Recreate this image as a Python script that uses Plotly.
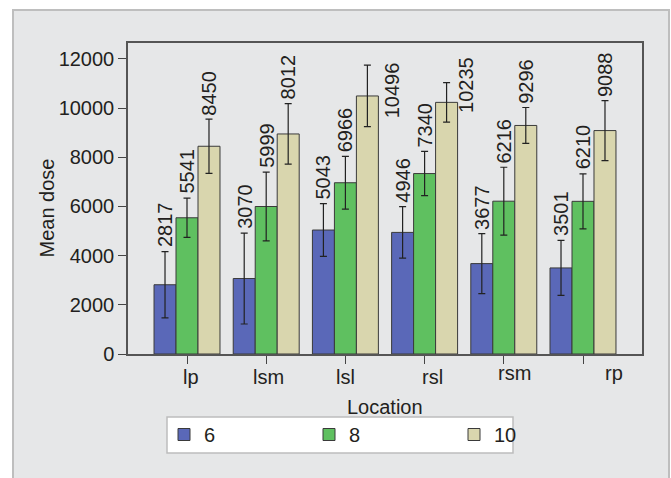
import plotly.graph_objects as go

# ---- data ----
locations = ["lp", "lsm", "lsl", "rsl", "rsm", "rp"]
groups = ["6", "8", "10"]
mean_6 = [2817, 3070, 5043, 4946, 3677, 3501]
mean_8 = [5541, 5999, 6966, 7340, 6216, 6210]
mean_10 = [8450, 8950, 10496, 10235, 9296, 9088]
err_6 = [1350, 1850, 1070, 1050, 1220, 1120]
err_8 = [800, 1400, 1070, 900, 1380, 1120]
err_10 = [1100, 1230, 1250, 800, 730, 1220]
labels_6 = ["2817", "3070", "5043", "4946", "3677", "3501"]
labels_8 = ["5541", "5999", "6966", "7340", "6216", "6210"]
labels_10 = ["8450", "8012", "10496", "10235", "9296", "9088"]
y_ticks = [0, 2000, 4000, 6000, 8000, 10000, 12000]
y_tick_text = ["0", "2000", "4000", "6000", "8000", "10000", "12000"]

# ---- styles ----
FONT = "Liberation Sans, Arial, sans-serif"
TXT = "#231F20"
colors = ["#5A68B8", "#5FC060", "#D9D6AE"]
BARGAP = 0.167
L, R, T, B = 128, 29, 43, 124
W, H = 671, 478
PW, PH = W - L - R, H - T - B

means = [mean_6, mean_8, mean_10]
errs = [err_6, err_8, err_10]
labels = [labels_6, labels_8, labels_10]
xs = list(range(len(locations)))

fig = go.Figure()
for k, g in enumerate(groups):
    fig.add_trace(go.Bar(
        x=xs, y=means[k], name=g,
        marker=dict(color=colors[k], line=dict(color="#3A3A3A", width=1)),
        error_y=dict(type="data", array=errs[k], color="#222222", thickness=1.2, width=3.5),
    ))

bw = (1 - BARGAP) / len(groups)
# special placement for labels that would hit the top frame
special = {(2, 2): (25, 6), (2, 3): (20, 17)}
ann = []
for k in range(len(groups)):
    for i in xs:
        xc = i + (k - 1) * bw
        if (k, i) in special:
            dx, dy = special[(k, i)]
            ann.append(dict(x=xc, y=means[k][i], text=labels[k][i], textangle=-90,
                            xanchor="center", yanchor="middle", xshift=dx, yshift=dy,
                            showarrow=False, font=dict(size=20, color=TXT, family=FONT)))
        else:
            ann.append(dict(x=xc, y=means[k][i] + errs[k][i], text=labels[k][i], textangle=-90,
                            xanchor="center", yanchor="bottom", yshift=2,
                            showarrow=False, font=dict(size=20, color=TXT, family=FONT)))

# category labels (slightly offset as in the original)
cat_dx = [4, 2, 0, 8, 11, 31]
cat_dy = [-23, -23, -23, -23, -19, -19]
for i, loc in enumerate(locations):
    ann.append(dict(x=i, y=0, text=loc, showarrow=False, xanchor="center", yanchor="middle",
                    xshift=cat_dx[i], yshift=cat_dy[i], font=dict(size=20, color=TXT, family=FONT)))

ann.append(dict(x=0.5, xref="paper", y=0, text="Location", showarrow=False,
                xanchor="center", yanchor="middle", yshift=-53,
                font=dict(size=20, color=TXT, family=FONT)))
ann.append(dict(x=0, xref="paper", y=0.5, yref="paper", text="Mean dose", textangle=-90,
                showarrow=False, xanchor="center", yanchor="middle", xshift=-82, yshift=-10,
                font=dict(size=20, color=TXT, family=FONT)))

def px_x(p):
    return (p - L) / PW

def px_y(p):
    return (H - B - p) / PH

# outer grey panel
fig.add_shape(type="rect", xref="paper", yref="paper", layer="below",
              x0=px_x(13), x1=px_x(669), y0=px_y(490), y1=px_y(10),
              fillcolor="#E6E7E8", line=dict(color="#BEBEBE", width=2))
# legend box
fig.add_shape(type="rect", xref="paper", yref="paper", layer="below",
              x0=px_x(167), x1=px_x(513), y0=px_y(453), y1=px_y(417),
              fillcolor="white", line=dict(color="#BDBDBD", width=1.5))

fig.update_layout(
    width=W, height=H,
    margin=dict(l=L, r=R, t=T, b=B, autoexpand=False),
    paper_bgcolor="white", plot_bgcolor="white",
    barmode="group", bargap=BARGAP, bargroupgap=0,
    font=dict(family=FONT, size=20, color=TXT),
    annotations=ann,
    showlegend=True,
    legend=dict(orientation="h", x=px_x(164), y=px_y(415), xanchor="left", yanchor="top",
                bgcolor="rgba(0,0,0,0)", borderwidth=0,
                entrywidth=100, font=dict(size=20, color=TXT, family=FONT),
                traceorder="normal"),
    xaxis=dict(range=[-0.745, len(locations) - 1 + 0.745], tickvals=xs, showticklabels=False,
               ticks="outside", ticklen=8, tickcolor="#444444", showgrid=False, zeroline=False,
               showline=True, linecolor="#555555", linewidth=1.5, mirror=True),
    yaxis=dict(range=[0, 12650], tickvals=y_ticks, ticktext=y_tick_text, ticks="outside", ticklen=8,
               tickcolor="#444444", showgrid=False, zeroline=False,
               showline=True, linecolor="#555555", linewidth=1.5, mirror=True,
               tickfont=dict(size=20, color=TXT, family=FONT)),
)

fig.write_html("out.html", config={"displayModeBar": False},
               post_script="document.body.style.margin='0';document.body.style.overflow='hidden';")
